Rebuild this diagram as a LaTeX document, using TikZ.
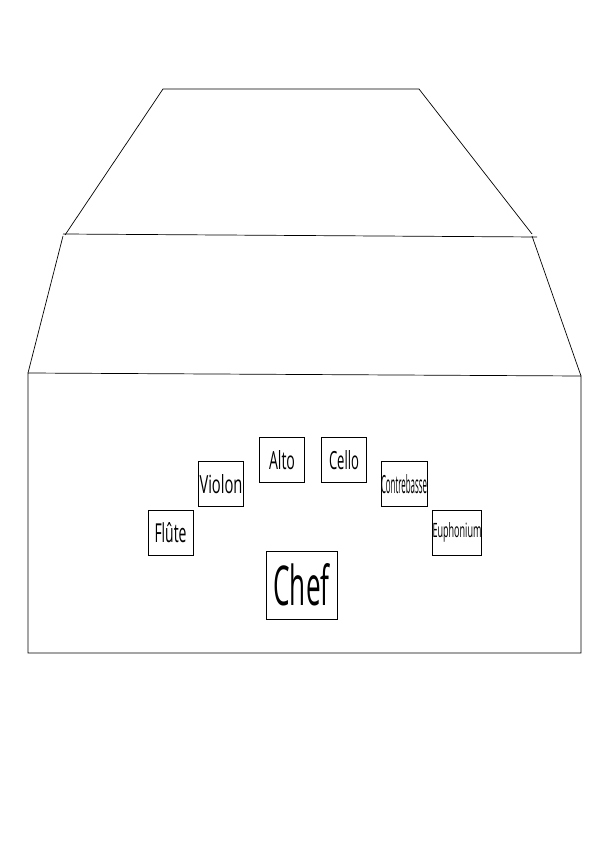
\documentclass[tikz,border=0pt]{standalone}
\usepackage{fontspec}
\setmainfont{Open Sans}
\usepackage{graphicx}
\usetikzlibrary{positioning}

% squeeze a label to a given width and height
\newcommand{\squeeze}[3]{\resizebox{#1pt}{#2pt}{#3}}

\begin{document}
\begin{tikzpicture}[x=1pt, y=-1pt, line width=0.7pt,
    seat/.style={draw, minimum size=45pt, inner sep=0pt},
    podium/.style={draw, minimum width=71pt, minimum height=68pt, inner sep=0pt}]
    \useasboundingbox (0,0) rectangle (596,842);

    % stage outline
    \draw (65,235) -- (163,89) -- (419,89) -- (532,234);
    \draw (63,234) -- (537,237);
    \draw (63,236) -- (28,373);
    \draw (532,236) -- (581,376);
    \draw (28,373) -- (581,376) -- (581,653) -- (28,653) -- cycle;

    % players
    \node[seat] (flute) at (170.5,532.5) {\squeeze{32}{20}{Flûte}};
    \node[seat] (violon) at (221,484) {\squeeze{43}{19}{Violon}};
    \node[seat] (alto) at (282,460) {\squeeze{26}{19}{Alto}};
    \node[seat] (cello) at (344,460) {\squeeze{30}{19}{Cello}};
    \node[seat] (contrebasse) at (404,484) {\squeeze{46}{19}{Contrebasse}};
    \node[seat] (euphonium) at (457,532.5) {\squeeze{49}{15}{Euphonium}};
    \node[podium] (chef) at (301.5,585) {\squeeze{56}{42}{Chef}};
\end{tikzpicture}
\end{document}
